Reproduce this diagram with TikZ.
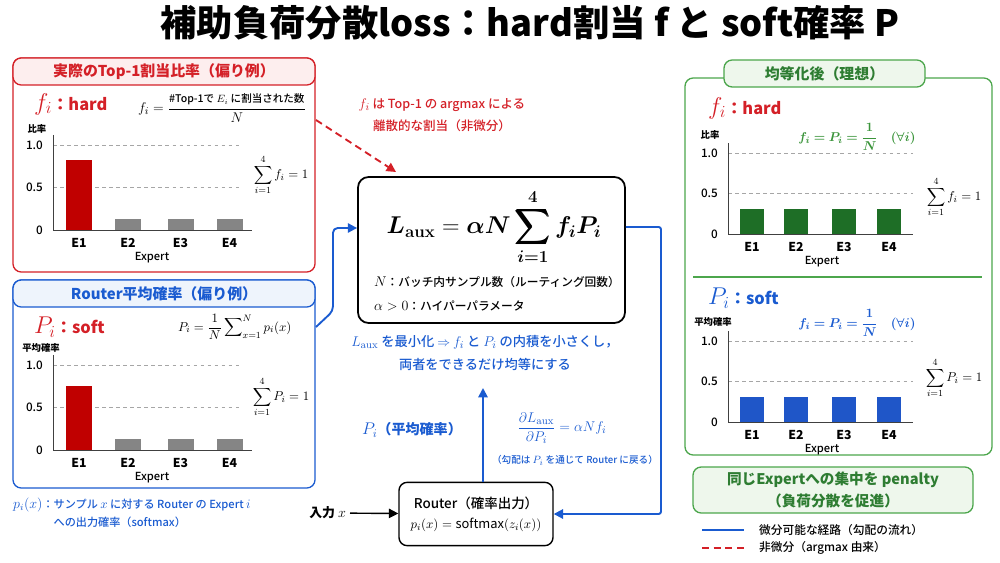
\documentclass[tikz,border=0pt]{standalone}
\usepackage{amsmath}
\usepackage{bm}
\usepackage[no-math]{fontspec}
\setmainfont{Noto Sans CJK JP}
\newfontfamily\medfont{Noto Sans CJK JP Medium}
\usepackage{tikz}
\usetikzlibrary{positioning,fit,arrows.meta}

\definecolor{hardred}{HTML}{D42027}
\definecolor{barred}{HTML}{C00000}
\definecolor{bargray}{HTML}{858585}
\definecolor{softblue}{HTML}{1A5BD0}
\definecolor{barblue}{HTML}{1F56C8}
\definecolor{idealgreen}{HTML}{4CA64C}
\definecolor{idealtext}{HTML}{2E7D32}
\definecolor{idealmath}{HTML}{3A943A}
\definecolor{bargreen}{HTML}{1E6E26}
\definecolor{pinkfill}{HTML}{FDEEEE}
\definecolor{bluefill}{HTML}{EEF4FC}
\definecolor{greenfill}{HTML}{EEF7EC}

\tikzset{
  panelbox/.style={draw=#1, line width=1.1pt, rounded corners=7pt, inner sep=0pt},
  headbox/.style={draw=#1, line width=1.1pt, rounded corners=7pt, inner sep=0pt},
  headtext/.style={font=\fontsize{12.75}{14}\selectfont\bfseries},
  tagtext/.style={anchor=west, font=\fontsize{14}{16}\selectfont\bfseries},
  axtitle/.style={font=\fontsize{8}{9}\selectfont\bfseries},
  gridline/.style={black!35, dashed, line width=0.5pt},
  axisline/.style={black!75, line width=0.8pt},
  ticklabel/.style={anchor=east, font=\fontsize{10}{12}\selectfont\medfont},
  explabel/.style={font=\fontsize{10.5}{12}\selectfont\bfseries},
  expertlabel/.style={font=\fontsize{9.5}{11}\selectfont\medfont},
  sumtext/.style={font=\fontsize{11}{13}\selectfont},
  flow/.style={draw=softblue, line width=1.6pt, -{Triangle[length=8pt,width=8pt]}},
  nondiff/.style={draw=hardred, line width=1.6pt, dash pattern=on 6pt off 4pt,
    -{Triangle[length=8pt,width=8pt]}},
}

% chart: name, px for 1.0, grid end, axis end, Expert x, bar width, bars
\newcommand{\expertchart}[7]{%
  \draw[gridline] (0,#2) -- (#3,#2) (0,0.5*#2) -- (#3,0.5*#2);
  \draw[axisline] (0,1.12*#2) -- (0,0) -- (#4,0);
  \node[ticklabel] (#1-t0) at (-6,0) {0};
  \node[ticklabel] (#1-t5) at (-6,0.5*#2) {0.5};
  \node[ticklabel] (#1-t10) at (-6,#2) {1.0};
  \foreach \i/\bx/\bv/\col in {#7} {
    \fill[\col] ({\bx-#6/2},0) rectangle ({\bx+#6/2},{\bv*#2});
    \node[explabel] (#1-e\i) at (\bx,-13) {E\i};
  }
  \node[expertlabel] (#1-x) at (#5,-28) {Expert};
}
\newcommand{\bigmath}[1]{{\fontsize{21}{22}\selectfont$#1$}}
\newcommand{\sized}[2]{{\fontsize{#1}{#1}\selectfont$#2$}}

\begin{document}
\begin{tikzpicture}[x=0.03cm,y=-0.03cm]
\useasboundingbox (0,0) rectangle (1000,563);

\node[font=\fontsize{31}{34}\selectfont\bfseries] (title) at (530,23)
  {補助負荷分散loss：hard割当 f と soft確率 P};

% hard: real top-1 ratio
\node[panelbox=hardred, fit={(13,58)(315,272)}] (hardpanel) {};
\node[headbox=hardred, fill=pinkfill, fit={(13,58)(315,85)}] (hardhead) {};
\node[headtext, text=hardred] (hardtitle) at (hardhead) {実際のTop-1割当比率（偏り例）};
\node[tagtext, text=hardred] (hardtag) at (30,104) {\bigmath{f_i}：hard};
\node[anchor=west, font=\fontsize{13}{15}\selectfont] (hardfrac) at (134,108)
  {$f_i=\dfrac{\text{\fontsize{9}{10}\selectfont\medfont\#Top-1で $E_i$ に割当された数}}{N}$};
\node[axtitle] (hardaxt) at (37,129) {比率};
\begin{scope}[shift={(53,230)}, y=0.03cm]
  \expertchart{hc}{85}{187}{199}{99}{26}{1/26/0.82/barred, 2/75/0.13/bargray, 3/127.5/0.13/bargray, 4/176.5/0.13/bargray}
\end{scope}
\node[sumtext] (hardsum) at (281,175) {$\displaystyle\sum_{i=1}^{4} f_i = 1$};

% soft: router mean probability
\node[panelbox=softblue, fit={(13,280)(315,488)}] (softpanel) {};
\node[headbox=softblue, fill=bluefill, fit={(13,280)(315,307)}] (softhead) {};
\node[headtext, text=softblue] (softtitle) at (softhead) {Router平均確率（偏り例）};
\node[tagtext, text=hardred] (softtag) at (30,327) {\bigmath{P_i}：soft};
\node[anchor=west, font=\fontsize{11}{13}\selectfont] (softfrac) at (174,327)
  {$P_i=\dfrac{1}{N}\displaystyle\sum\nolimits_{x=1}^{N} p_i(x)$};
\node[axtitle] (softaxt) at (41,348) {平均確率};
\begin{scope}[shift={(53,450)}, y=0.03cm]
  \expertchart{sc}{85}{187}{199}{99}{26}{1/26/0.75/barred, 2/75/0.13/bargray, 3/127.5/0.13/bargray, 4/176.5/0.13/bargray}
\end{scope}
\node[sumtext] (softsum) at (281,397) {$\displaystyle\sum_{i=1}^{4} P_i = 1$};
\node[anchor=north west, align=left, text=softblue, font=\fontsize{9.5}{15.5}\selectfont\medfont] (pxnote) at (9,494)
  {\sized{11.5}{p_i(x)}：サンプル \sized{11}{x} に対する Router の Expert \sized{11}{i}\\\phantom{\sized{11.5}{p_i(x)}：}への出力確率（softmax）};

% loss
\node[align=center, text=hardred, font=\fontsize{10.7}{19}\selectfont\medfont] (argnote) at (442,115)
  {\sized{12.5}{f_i} は Top-1 の argmax による\\離散的な割当（非微分）};
\node[draw, line width=1.5pt, rounded corners=9pt, inner sep=0pt, fit={(358,177)(625,323)}] (lossbox) {};
\node[font=\fontsize{22}{26}\selectfont] (lossformula) at (494,227)
  {$\displaystyle \bm{L}_{\mathbf{aux}} = \bm{\alpha} \bm{N} \bm{\sum_{i=1}^{4}} \bm{f_i} \bm{P_i}$};
\node[anchor=west, align=left, font=\fontsize{10}{20}\selectfont\medfont] (lossnotes) at (370,294)
  {\sized{11.5}{N}：バッチ内サンプル数（ルーティング回数）\\\sized{11.5}{\alpha>0}：ハイパーパラメータ};
\node[align=center, text=softblue, font=\fontsize{11.3}{19}\selectfont\medfont] (minnote) at (485,353)
  {\sized{13}{L_{\mathrm{aux}}} を最小化 $\Rightarrow$ \sized{13}{f_i} と \sized{13}{P_i} の内積を小さくし，\\両者をできるだけ均等にする};

% router
\node[draw, line width=1.2pt, rounded corners=7pt, align=center, minimum width=4.62cm, minimum height=1.9cm,
  font=\fontsize{11}{13}\selectfont] (router) at (476,514)
  {{\medfont\fontsize{11.5}{13}\selectfont Router（確率出力）}\\[4pt] $p_i(x) = \text{softmax}(z_i(x))$};
\node[anchor=east, font=\fontsize{11}{13}\selectfont\bfseries] (input) at (350,513) {入力 \sized{12.5}{x}};
\draw[-{Triangle[length=8pt,width=8pt]}, line width=1.2pt] (input) -- (router);
\node[text=softblue, font=\fontsize{12}{14}\selectfont\bfseries] (pilabel) at (412,430) {\sized{14.5}{P_i}（平均確率）};
\node[text=softblue, font=\fontsize{12.5}{14}\selectfont] (grad) at (562,428)
  {$\dfrac{\partial L_{\mathrm{aux}}}{\partial P_i} = \alpha N f_i$};
\node[text=softblue, font=\fontsize{8.2}{9}\selectfont\medfont] (gradnote) at (575,460)
  {（勾配は \sized{9.5}{P_i} を通じて Router に戻る）};

% ideal
\node[panelbox=idealgreen, fit={(685,78)(992,455)}] (idealpanel) {};
\draw[idealgreen, line width=1.1pt] (693,277) -- (982,277);
\node[headbox=idealgreen, fill=greenfill, fit={(724,60)(925,87)}] (idealhead) {};
\node[headtext, text=idealtext] (idealtitle) at (idealhead) {均等化後（理想）};
\node[tagtext, text=hardred] (idealftag) at (704,108) {\bigmath{f_i}：hard};
\node[axtitle] (idealfaxt) at (710,135) {比率};
\node[text=idealmath, font=\fontsize{11}{13}\selectfont] (idealfeq) at (857,137)
  {$\bm{f_i = P_i = \dfrac{1}{N}\quad(\forall i)}$};
\begin{scope}[shift={(728,234)}, y=0.03cm]
  \expertchart{if}{81}{185}{185}{94}{24}{1/24/0.31/bargreen, 2/68/0.31/bargreen, 3/116/0.31/bargreen, 4/161/0.31/bargreen}
\end{scope}
\node[sumtext] (idealfsum) at (954,197) {$\displaystyle\sum_{i=1}^{4} f_i = 1$};
\node[tagtext, text=softblue] (idealptag) at (704,298) {\bigmath{P_i}：soft};
\node[axtitle] (idealpaxt) at (713,322) {平均確率};
\node[text=softblue, font=\fontsize{11}{13}\selectfont] (idealpeq) at (857,323)
  {$\bm{f_i = P_i = \dfrac{1}{N}\quad(\forall i)}$};
\begin{scope}[shift={(728,422)}, y=0.03cm]
  \expertchart{ip}{81}{185}{185}{94}{24}{1/24/0.31/barblue, 2/68/0.31/barblue, 3/116/0.31/barblue, 4/161/0.31/barblue}
\end{scope}
\node[sumtext] (idealpsum) at (954,378) {$\displaystyle\sum_{i=1}^{4} P_i = 1$};

\node[draw=idealgreen, fill=greenfill, line width=1.1pt, rounded corners=7pt, inner sep=0pt,
  fit={(693,467)(973,513)}] (penalty) {};
\node[align=center, text=idealtext, font=\fontsize{12.5}{19}\selectfont\bfseries] (penaltytext) at (penalty)
  {同じExpertへの集中を penalty\\（負荷分散を促進）};

% legend
\coordinate (lgba) at (702,530);
\coordinate (lgbb) at (744,530);
\coordinate (lgra) at (702,548);
\coordinate (lgrb) at (744,548);
\draw[softblue, line width=1.6pt] (lgba) -- (lgbb);
\draw[hardred, line width=1.6pt, dash pattern=on 6pt off 4pt] (lgra) -- (lgrb);
\node[anchor=west, font=\fontsize{10}{12}\selectfont\medfont] (lgbtext) at (755,530) {微分可能な経路（勾配の流れ）};
\node[anchor=west, font=\fontsize{10}{12}\selectfont\medfont] (lgrtext) at (755,548) {非微分（argmax 由来）};

% connectors
\coordinate (fstart) at (316,120);
\coordinate (fend) at (396,172);
\draw[nondiff] (fstart) -- (fend);
\coordinate (pstart) at (316,327);
\draw[flow, rounded corners=4pt] (pstart) -- (333,311) -- (333,228) -- (lossbox.west |- 0,228);
\draw[flow, rounded corners=2pt] (lossbox.east |- lossformula) -- (661,227) |- (router.east);
\coordinate (ptop) at (483,388);
\draw[flow] (router.north -| ptop) -- (ptop);
\end{tikzpicture}
\end{document}
